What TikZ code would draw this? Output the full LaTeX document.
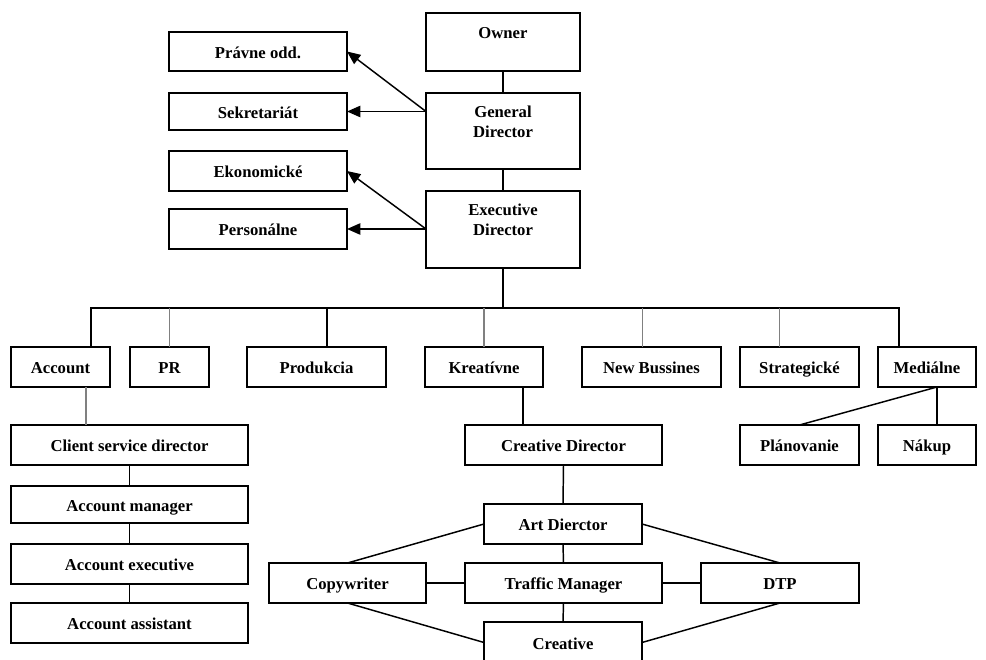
\documentclass[tikz,border=0pt]{standalone}
\usepackage{fontspec}
\setmainfont{Liberation Serif}
\usetikzlibrary{arrows.meta,calc}
\tikzset{
  box/.style={draw=black,line width=1.1pt,rectangle,inner sep=0pt,outer sep=0pt,
    font=\fontsize{12.5}{15}\selectfont\bfseries,align=center,text height=12pt,text depth=2.2pt},
  lbl/.style={anchor=center,label distance=0pt,font=\fontsize{12.5}{15}\selectfont\bfseries,align=center,inner sep=0pt},
  conn/.style={draw=black,line width=1.1pt},
  gconn/.style={draw=gray,line width=1.1pt},
  arr/.style={conn,-{Triangle[length=10pt,width=8.5pt]}}
}
\newcommand\bx[7][]{%
  \pgfmathsetmacro\bxcx{(#3+#5)/2}%
  \pgfmathsetmacro\bxcy{(#4+#6)/2}%
  \pgfmathsetmacro\bxw{(#5-#3)*0.75}%
  \pgfmathsetmacro\bxh{(#6-#4)*0.75}%
  \node[box,minimum width=\bxw pt,minimum height=\bxh pt,#1] (#2) at (\bxcx,\bxcy) {#7};}
\begin{document}
\begin{tikzpicture}[x=0.75pt,y=-0.75pt]
\clip (0,0) rectangle (986,660);
\fill[white] (0,0) rectangle (986,660);
% top column
\bx[label={[lbl,yshift=-15pt]north:Owner}]{owner}{426}{13}{580}{71}{}
\bx[label={[lbl,yshift=-21.75pt]north:{General\\Director}}]{gd}{426}{93}{580}{169}{}
\bx[label={[lbl,yshift=-21.75pt]north:{Executive\\Director}}]{ed}{426}{191}{580}{268}{}
% staff boxes
\bx{pravne}{169}{32}{347}{71}{Právne odd.}
\bx{sekr}{169}{93}{347}{130}{Sekretariát}
\bx{ekon}{169}{151}{347}{191}{Ekonomické}
\bx{pers}{169}{209}{347}{249}{Personálne}
% departments
\bx{acc}{11}{347}{110}{387}{Account}
\bx{pr}{130}{347}{209}{387}{PR}
\bx{prod}{247}{347}{386}{387}{Produkcia}
\bx{kreat}{425}{347}{543}{387}{Kreatívne}
\bx{newb}{582}{347}{721}{387}{New Bussines}
\bx{strat}{740}{347}{859}{387}{Strategické}
\bx{med}{878}{347}{976}{387}{Mediálne}
% second level
\bx{csd}{11}{425}{248}{465}{Client service director}
\bx{cd}{465}{425}{662}{465}{Creative Director}
\bx{plan}{740}{425}{859}{465}{Plánovanie}
\bx{nakup}{878}{425}{976}{465}{Nákup}
% account chain
\bx{am}{11}{486}{248}{523}{Account manager}
\bx{ae}{11}{544}{248}{584}{Account executive}
\bx{aa}{11}{603}{248}{643}{Account assistant}
% creative team
\bx{ad}{484}{504}{642}{544}{Art Dierctor}
\bx{tm}{465}{563}{662}{603}{Traffic Manager}
\bx{dtp}{701}{563}{859}{603}{DTP}
\bx{copy}{269}{563}{426}{603}{Copywriter}
\bx[label={[lbl,yshift=-16.5pt]north:Creative}]{creative}{484}{622}{642}{663}{}
% top connectors
\draw[conn] (owner.south) -- (gd.north);
\draw[conn] (gd.south) -- (ed.north);
\coordinate (gdL) at (426,111.5);
\coordinate (edL) at (426,229);
\draw[arr] (gdL) -- (pravne.east);
\draw[arr] (gdL) -- (sekr.east);
\draw[arr] (edL) -- (ekon.east);
\draw[arr] (edL) -- (pers.east);
% bus
\coordinate (busL) at (91,308);
\coordinate (busR) at (899,308);
\draw[conn] (ed.south) -- (ed.south |- busL);
\draw[conn] (acc.north -| busL) -- (busL) -- (busR) -- (med.north -| busR);
\draw[gconn] (pr.north) -- (pr.north |- busL);
\draw[conn] ($(prod.north)+(10.5,0)$) coordinate (pd) -- (pd |- busL);
\draw[gconn] (kreat.north) -- (kreat.north |- busL);
\draw[gconn] ($(newb.north)+(-9,0)$) coordinate (nb) -- (nb |- busL);
\draw[gconn] ($(strat.north)+(-20,0)$) coordinate (st) -- (st |- busL);
% account chain
\draw[gconn] ($(acc.south)+(25.5,0)$) coordinate (ac) -- (ac |- csd.north);
\draw[conn] (csd.south) -- (am.north);
\draw[conn] (am.south) -- (ae.north);
\draw[conn] (ae.south) -- (aa.north);
% creative
\draw[conn] ($(kreat.south)+(39,0)$) coordinate (kc) -- (kc |- cd.north);
\draw[conn] (cd.south) -- (ad.north);
\draw[conn] (ad.south) -- (tm.north);
\draw[conn] (tm.south) -- (creative.north);
\draw[conn] (copy.east) -- (tm.west);
\draw[conn] (tm.east) -- (dtp.west);
\draw[conn] (copy.north) -- (ad.west);
\draw[conn] (copy.south) -- (creative.west);
\draw[conn] (ad.east) -- (dtp.north);
\draw[conn] (dtp.south) -- (creative.east);
% media
\draw[conn] ($(med.south)+(10,0)$) coordinate (mc) -- (plan.north);
\draw[conn] (mc) -- (mc |- nakup.north);
\end{tikzpicture}
\end{document}
